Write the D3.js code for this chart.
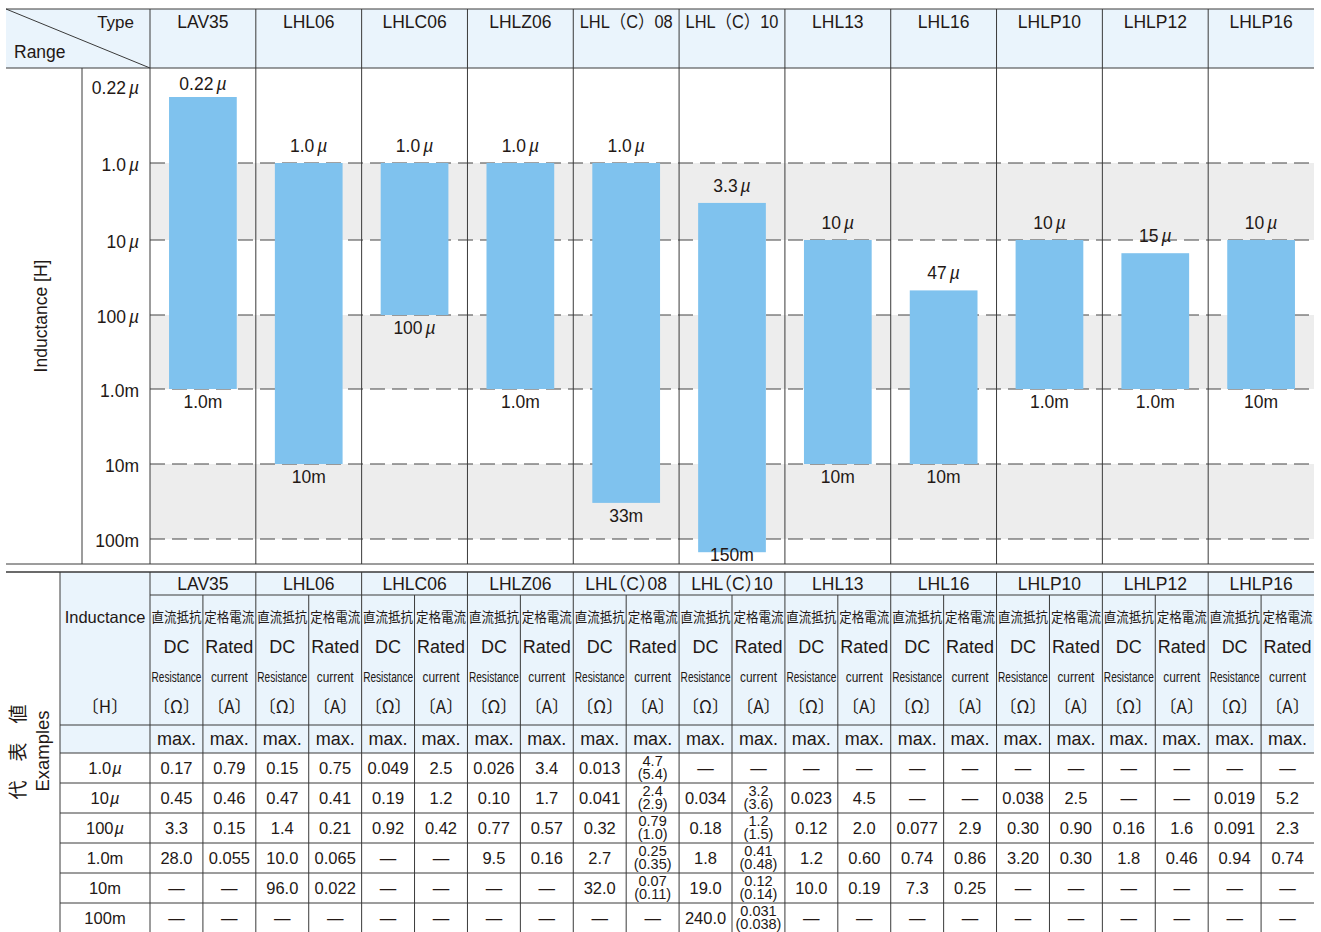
<!DOCTYPE html>
<html><head><meta charset="utf-8">
<script src="https://cdn.jsdelivr.net/npm/d3@7"></script>
<style>
body{margin:0;background:#fff;}
svg{display:block;font-family:"Liberation Sans",Arial,"Noto Sans CJK JP",sans-serif;}
text{fill:#231815;}
.halt{font-feature-settings:"halt";}
</style></head><body>
<svg id="c" width="1321" height="932"></svg>
<script>
// ---------- DATA ----------
const types = ["LAV35","LHL06","LHLC06","LHLZ06","LHL（C）08","LHL（C）10","LHL13","LHL16","LHLP10","LHLP12","LHLP16"];
const rangeMin = [0.22e-6, 1e-6, 1e-6, 1e-6, 1e-6, 3.3e-6, 10e-6, 47e-6, 10e-6, 15e-6, 10e-6];
const rangeMax = [1e-3, 10e-3, 100e-6, 1e-3, 33e-3, 150e-3, 10e-3, 10e-3, 1e-3, 1e-3, 1e-3];
const minLabels = ["0.22µ","1.0µ","1.0µ","1.0µ","1.0µ","3.3µ","10µ","47µ","10µ","15µ","10µ"];
const maxLabels = ["1.0m","10m","100µ","1.0m","33m","150m","10m","10m","1.0m","1.0m","10m"];
const tickVals = [0.22e-6, 1e-6, 1e-5, 1e-4, 1e-3, 1e-2, 1e-1];
const tickLabels = ["0.22µ","1.0µ","10µ","100µ","1.0m","10m","100m"];
const shadedBands = [[1e-6,1e-5],[1e-4,1e-3],[1e-2,1e-1]];

const exRowLabels = ["1.0µ","10µ","100µ","1.0m","10m","100m"];
const D = "—";
const ex1u   = ["0.17","0.79","0.15","0.75","0.049","2.5","0.026","3.4","0.013","4.7 (5.4)",D,D,D,D,D,D,D,D,D,D,D,D];
const ex10u  = ["0.45","0.46","0.47","0.41","0.19","1.2","0.10","1.7","0.041","2.4 (2.9)","0.034","3.2 (3.6)","0.023","4.5",D,D,"0.038","2.5",D,D,"0.019","5.2"];
const ex100u = ["3.3","0.15","1.4","0.21","0.92","0.42","0.77","0.57","0.32","0.79 (1.0)","0.18","1.2 (1.5)","0.12","2.0","0.077","2.9","0.30","0.90","0.16","1.6","0.091","2.3"];
const ex1m   = ["28.0","0.055","10.0","0.065",D,D,"9.5","0.16","2.7","0.25 (0.35)","1.8","0.41 (0.48)","1.2","0.60","0.74","0.86","3.20","0.30","1.8","0.46","0.94","0.74"];
const ex10m  = [D,D,"96.0","0.022",D,D,D,D,"32.0","0.07 (0.11)","19.0","0.12 (0.14)","10.0","0.19","7.3","0.25",D,D,D,D,D,D];
const ex100m = [D,D,D,D,D,D,D,D,D,D,"240.0","0.031 (0.038)",D,D,D,D,D,D,D,D,D,D];
const exRows = [ex1u, ex10u, ex100u, ex1m, ex10m, ex100m];
const subJP = ["直流抵抗","定格電流"];
const subEN1 = ["DC","Rated"];
const subEN2 = ["Resistance","current"];
const subUnit = ["〔Ω〕","〔A〕"];

// ---------- STYLE ----------
const LINE = "#3a3a3a", HEAD = "#eaf4fc", SHADE = "#ededed", BAR = "#7fc2ee";
const L = 6, R = 1314;

const svg = d3.select("#c");
const x = d3.scaleBand().domain(types).range([150, R]);
const bw = x.bandwidth();
const y = d3.scaleLog().domain(tickVals).range([97, 163, 240, 315, 389, 464, 539]);

function muText(sel, str, gap) {
  const parts = str.split("µ");
  sel.append("tspan").text(parts[0]);
  if (str.includes("µ")) {
    sel.append("tspan").attr("dx", gap).attr("font-style", "italic").text("µ");
    if (parts[1]) sel.append("tspan").text(parts[1]);
  }
}
// text squeezed horizontally to a target width (only if wider)
function squeezed(g, str, cx, yy, size, maxW, family, cls) {
  const t = g.append("text").attr("text-anchor", "middle").attr("font-size", size).text(str);
  if (family) t.attr("font-family", family);
  if (cls) t.attr("class", cls);
  const w = t.node().getComputedTextLength();
  const s = w > maxW ? maxW / w : 1;
  t.attr("transform", `translate(${cx},${yy}) scale(${s},1)`);
  return t;
}
function hline(g, x1, x2, yy, w) {
  g.append("line").attr("x1", x1).attr("x2", x2).attr("y1", yy).attr("y2", yy)
    .attr("stroke", LINE).attr("stroke-width", w || 1);
}
function vline(g, xx, y1, y2, w) {
  g.append("line").attr("x1", xx).attr("x2", xx).attr("y1", y1).attr("y2", y2)
    .attr("stroke", LINE).attr("stroke-width", w || 1);
}

// ---------- TOP CHART ----------
const gTop = svg.append("g");
gTop.append("rect").attr("x", L).attr("y", 9).attr("width", R - L).attr("height", 59).attr("fill", HEAD);

gTop.selectAll("rect.band").data(shadedBands).join("rect").attr("class", "band")
  .attr("x", 150).attr("width", R - 150)
  .attr("y", d => y(d[0])).attr("height", d => y(d[1]) - y(d[0]))
  .attr("fill", SHADE);

gTop.selectAll("line.grid").data(tickVals.slice(1)).join("line").attr("class", "grid")
  .attr("x1", 150).attr("x2", R).attr("y1", d => y(d)).attr("y2", d => y(d))
  .attr("stroke", "#444").attr("stroke-width", 1.2).attr("stroke-dasharray", "15,7");

gTop.selectAll("rect.bar").data(types).join("rect").attr("class", "bar")
  .attr("x", d => x(d) + bw * 0.18).attr("width", bw * 0.64)
  .attr("y", (d, i) => y(rangeMin[i]))
  .attr("height", (d, i) => y(rangeMax[i]) - y(rangeMin[i]))
  .attr("fill", BAR);

types.forEach((t, i) => {
  const cx = x(t) + bw / 2;
  const tt = gTop.append("text").attr("x", cx).attr("y", y(rangeMin[i]) - (i === 0 ? 7 : 11))
    .attr("text-anchor", "middle").attr("font-size", 17.5);
  muText(tt, minLabels[i], 3);
  const tb = gTop.append("text").attr("x", cx).attr("y", Math.min(y(rangeMax[i]) + 19, 561))
    .attr("text-anchor", "middle").attr("font-size", 17.5);
  muText(tb, maxLabels[i], 3);
});

// frame lines
hline(gTop, L, R, 9);
hline(gTop, L, R, 68);
hline(gTop, L, R, 564);
vline(gTop, 82, 68, 564);
types.forEach(t => vline(gTop, x(t), 9, 564));
gTop.append("line").attr("x1", L).attr("y1", 9).attr("x2", 150).attr("y2", 68)
  .attr("stroke", LINE).attr("stroke-width", 1);

// header texts
gTop.append("text").attr("x", 134).attr("y", 28).attr("text-anchor", "end").attr("font-size", 17).text("Type");
gTop.append("text").attr("x", 14).attr("y", 58).attr("font-size", 17.5).text("Range");
types.forEach(t => squeezed(gTop, t, x(t) + bw / 2, 28, 17.5, 93));

// y ticks
tickVals.forEach((v, i) => {
  const t = gTop.append("text").attr("x", 139).attr("y", y(v) + (i === 0 ? -3 : 8))
    .attr("text-anchor", "end").attr("font-size", 17.5);
  muText(t, tickLabels[i], 3);
});
gTop.append("text").attr("transform", "translate(47,316) rotate(-90)")
  .attr("text-anchor", "middle").attr("font-size", 17.5).text("Inductance [H]");

// ---------- TABLE ----------
const gTab = svg.append("g");
const yTop = 572, yType = 595, yMax = 725, yData = 753, yEnd = 933;
const rowY = d3.scaleBand().domain(exRowLabels).range([yData, yEnd]);
const rh = rowY.bandwidth();
const sub = d3.scaleBand().domain([0, 1]).range([0, bw]);
const sw = sub.bandwidth();

gTab.append("rect").attr("x", 60).attr("y", yTop).attr("width", R - 60).attr("height", yData - yTop).attr("fill", HEAD);

hline(gTab, L, R, yTop, 1.3);
hline(gTab, 150, R, yType);
hline(gTab, 60, R, yMax);
hline(gTab, 60, R, yData);
exRowLabels.slice(1).forEach(r => hline(gTab, 60, R, rowY(r)));
vline(gTab, 60, yTop, yEnd);
types.forEach(t => { vline(gTab, x(t), yTop, yEnd); vline(gTab, x(t) + sw, yType, yEnd); });

gTab.append("text").attr("transform", "translate(25,752) rotate(-90)")
  .attr("text-anchor", "middle").attr("font-size", 19)
  .attr("font-family", "'Noto Sans CJK JP',sans-serif").text("代　表　値");
gTab.append("text").attr("transform", "translate(49,751) rotate(-90)")
  .attr("text-anchor", "middle").attr("font-size", 18.5).text("Examples");
gTab.append("text").attr("x", 105).attr("y", 623).attr("text-anchor", "middle").attr("font-size", 16.5).text("Inductance");
gTab.append("text").attr("x", 105).attr("y", 713).attr("text-anchor", "middle").attr("font-size", 17)
  .attr("font-family", "'Noto Sans CJK JP',sans-serif").text("〔H〕");

types.forEach(t => squeezed(gTab, t, x(t) + bw / 2, 590, 17.5, 88, null, "halt"));

types.forEach(t => {
  [0, 1].forEach(j => {
    const cx = x(t) + sub(j) + sw / 2;
    squeezed(gTab, subJP[j], cx, 622, 14, 50, "'Noto Sans CJK JP',sans-serif");
    gTab.append("text").attr("x", cx).attr("y", 653).attr("text-anchor", "middle")
      .attr("font-size", 18).text(subEN1[j]);
    squeezed(gTab, subEN2[j], cx, 682, 15, j === 0 ? 50 : 37);
    gTab.append("text").attr("x", cx).attr("y", 713).attr("text-anchor", "middle")
      .attr("font-size", 17).attr("font-family", "'Noto Sans CJK JP',sans-serif").text(subUnit[j]);
    gTab.append("text").attr("x", cx).attr("y", 745).attr("text-anchor", "middle")
      .attr("font-size", 18).text("max.");
  });
});

exRowLabels.forEach((r, ri) => {
  const cy = rowY(r) + rh / 2;
  const lt = gTab.append("text").attr("x", 105).attr("y", cy + 6).attr("text-anchor", "middle").attr("font-size", 16.5);
  muText(lt, r, 1);
  exRows[ri].forEach((v, ci) => {
    const t = types[Math.floor(ci / 2)];
    const cx = x(t) + sub(ci % 2) + sw / 2;
    if (v.includes(" (")) {
      const [a, b] = v.split(" ");
      squeezed(gTab, a, cx, cy - 2.5, 14.5, 48);
      squeezed(gTab, b, cx, cy + 11, 14.5, 48);
    } else {
      gTab.append("text").attr("x", cx).attr("y", cy + 6).attr("text-anchor", "middle").attr("font-size", 16.5).text(v);
    }
  });
});
</script>
</body></html>
